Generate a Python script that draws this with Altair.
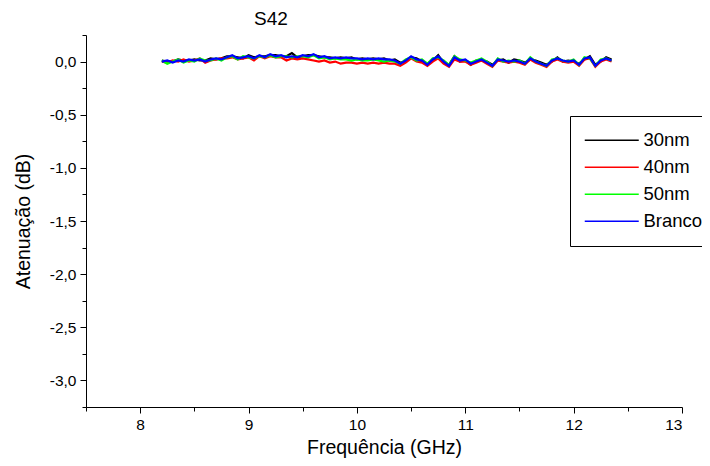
import altair as alt
import pandas as pd

FONT = "Liberation Sans"

# ---- data ----
series_names = ["30nm", "40nm", "50nm", "Branco"]
series_colors = ["#000000", "#ff0000", "#00ff00", "#0000ff"]

FREQ_START = 8.20   # GHz, first sample of the sweep
FREQ_STEP = 0.05    # GHz between samples

s30 = [0.01, 0.00, 0.00, 0.02, 0.01, 0.01, 0.02, 0.01, 0.01, 0.03,
       0.02, 0.03, 0.05, 0.05, 0.04, 0.03, 0.06, 0.04, 0.05, 0.05,
       0.06, 0.06, 0.05, 0.05, 0.08, 0.04, 0.05, 0.06, 0.06, 0.05,
       0.04, 0.04, 0.03, 0.04, 0.03, 0.04, 0.02, 0.03, 0.02, 0.03,
       0.02, 0.03, 0.01, 0.02, -0.01, 0.00, 0.04, 0.03, 0.00, -0.02,
       0.01, 0.06, -0.01, -0.03, 0.05, 0.00, 0.01, -0.03, 0.01, 0.01,
       0.00, -0.03, 0.01, 0.02, -0.01, 0.02, 0.01, -0.01, 0.02, 0.01,
       -0.01, -0.03, 0.00, 0.04, 0.00, 0.01, 0.00, -0.02, 0.02, 0.05,
       -0.03, 0.00, 0.04, 0.02]

s40 = [0.00, -0.01, 0.01, 0.00, 0.02, 0.00, 0.01, 0.03, -0.01, 0.01,
       0.02, 0.03, 0.03, 0.04, 0.02, 0.03, 0.04, 0.01, 0.05, 0.03,
       0.05, 0.04, 0.04, 0.01, 0.03, 0.02, 0.03, 0.02, 0.01, 0.00,
       0.01, -0.01, 0.00, -0.02, -0.01, -0.01, -0.02, -0.01, -0.02, -0.01,
       -0.02, -0.01, -0.02, -0.02, -0.04, -0.01, 0.03, 0.00, -0.01, -0.04,
       0.00, 0.03, -0.02, -0.05, 0.02, 0.00, 0.00, -0.03, -0.01, 0.01,
       -0.02, -0.05, 0.01, 0.00, -0.01, 0.00, -0.01, -0.03, 0.02, -0.01,
       -0.03, -0.05, 0.00, 0.02, 0.00, -0.01, 0.00, -0.04, 0.02, 0.03,
       -0.05, 0.00, 0.02, 0.00]

s50 = [0.01, -0.02, 0.00, 0.02, -0.01, 0.01, 0.00, 0.03, 0.01, 0.01,
       0.03, 0.01, 0.04, 0.05, 0.02, 0.05, 0.04, 0.03, 0.05, 0.04,
       0.06, 0.04, 0.05, 0.05, 0.04, 0.05, 0.05, 0.04, 0.06, 0.03,
       0.04, 0.02, 0.03, 0.02, 0.02, 0.01, 0.02, 0.01, 0.01, 0.02,
       0.01, 0.00, 0.01, 0.00, -0.02, 0.02, 0.04, 0.01, 0.02, -0.02,
       0.03, 0.04, 0.01, -0.03, 0.05, 0.02, 0.01, -0.01, 0.01, 0.03,
       0.00, -0.04, 0.03, 0.00, 0.01, 0.00, 0.01, -0.02, 0.04, 0.00,
       -0.02, -0.04, 0.02, 0.03, 0.01, 0.00, 0.02, -0.03, 0.04, 0.03,
       -0.04, 0.02, 0.03, 0.01]

branco = [0.00, 0.01, -0.01, 0.01, 0.00, 0.02, 0.01, 0.02, 0.00, 0.02,
          0.03, 0.02, 0.04, 0.06, 0.03, 0.04, 0.05, 0.03, 0.06, 0.04,
          0.07, 0.05, 0.06, 0.04, 0.05, 0.04, 0.06, 0.05, 0.07, 0.04,
          0.05, 0.03, 0.04, 0.03, 0.04, 0.03, 0.03, 0.02, 0.03, 0.02,
          0.03, 0.02, 0.02, 0.01, -0.02, 0.01, 0.05, 0.02, 0.01, -0.03,
          0.02, 0.05, 0.00, -0.04, 0.04, 0.01, 0.02, -0.02, 0.00, 0.02,
          -0.01, -0.04, 0.02, 0.01, 0.00, 0.01, 0.00, -0.02, 0.03, 0.00,
          -0.02, -0.04, 0.01, 0.03, 0.01, 0.00, 0.01, -0.03, 0.03, 0.04,
          -0.04, 0.01, 0.03, 0.01]

x_ticks = [7.5, 8.0, 8.5, 9.0, 9.5, 10.0, 10.5, 11.0, 11.5, 12.0, 12.5, 13.0]
y_ticks = [0.25, 0.0, -0.25, -0.5, -0.75, -1.0, -1.25, -1.5, -1.75, -2.0,
           -2.25, -2.5, -2.75, -3.0, -3.25]

# ---- long table ----
rows = []
for name, vals in zip(series_names, [s30, s40, s50, branco]):
    for i, v in enumerate(vals):
        rows.append({"freq": round(FREQ_START + FREQ_STEP * i, 3), "att": v, "serie": name})
df = pd.DataFrame(rows)

y_major = "abs(datum.value*2 - round(datum.value*2)) < 0.001"
y_label = ("(" + y_major + ") ? ((datum.value < -0.001 ? '-' : '') + "
           "replace(format(abs(datum.value), '.1f'), '.', ',')) : ''")
x_major = "abs(datum.value - round(datum.value)) < 0.001"
x_label = "(" + x_major + ") ? format(datum.value, 'd') : ''"

common_axis = dict(
    grid=False,
    domainColor="black",
    domainWidth=1,
    tickColor="black",
    tickWidth=1,
    labelColor="black",
    titleColor="black",
    labelFont=FONT,
    titleFont=FONT,
    labelFontSize=15.5,
    titleFontSize=19.5,
    titleFontWeight="normal",
)

chart = alt.Chart(df).mark_line(strokeWidth=2.2).encode(
    x=alt.X(
        "freq:Q",
        scale=alt.Scale(domain=[7.5, 13.0], nice=False, zero=False),
        axis=alt.Axis(
            values=x_ticks,
            title="Frequência (GHz)",
            labelExpr=x_label,
            tickSize={"condition": {"test": x_major, "value": 6}, "value": 4},
            labelPadding=4,
            titleX=298,
            titleY=40,
            titleBaseline="middle",
            **common_axis,
        ),
    ),
    y=alt.Y(
        "att:Q",
        scale=alt.Scale(domain=[-3.25, 0.25], nice=False, zero=False),
        axis=alt.Axis(
            values=y_ticks,
            title="Atenuação (dB)",
            labelExpr=y_label,
            tickSize={"condition": {"test": y_major, "value": 6}, "value": 4},
            labelPadding=4,
            titleX=-63,
            titleY=186,
            titleBaseline="middle",
            **common_axis,
        ),
    ),
    color=alt.Color(
        "serie:N",
        scale=alt.Scale(domain=series_names, range=series_colors),
        legend=alt.Legend(
            title=None,
            orient="none",
            legendX=484,
            legendY=81,
            symbolType="M-9.5,0H44.5",
            symbolSize=4,
            symbolStrokeWidth=1.5,
            labelFont=FONT,
            labelFontSize=18.5,
            labelColor="black",
            labelOffset=40,
            labelLimit=0,
            padding=15,
            rowPadding=8,
            strokeColor="black",
            fillColor="white",
        ),
    ),
).properties(
    width=596,
    height=372,
    title=alt.TitleParams(
        "S42",
        font=FONT,
        fontSize=19,
        fontWeight="normal",
        color="black",
        anchor="middle",
        dx=-113,
        offset=6,
    ),
    autosize=alt.AutoSizeParams(type="none"),
    padding={"left": 78, "top": 27, "right": 20, "bottom": 51},
).configure_view(stroke="transparent")

chart.save("out.html", embed_options={"renderer": "svg", "actions": False})
